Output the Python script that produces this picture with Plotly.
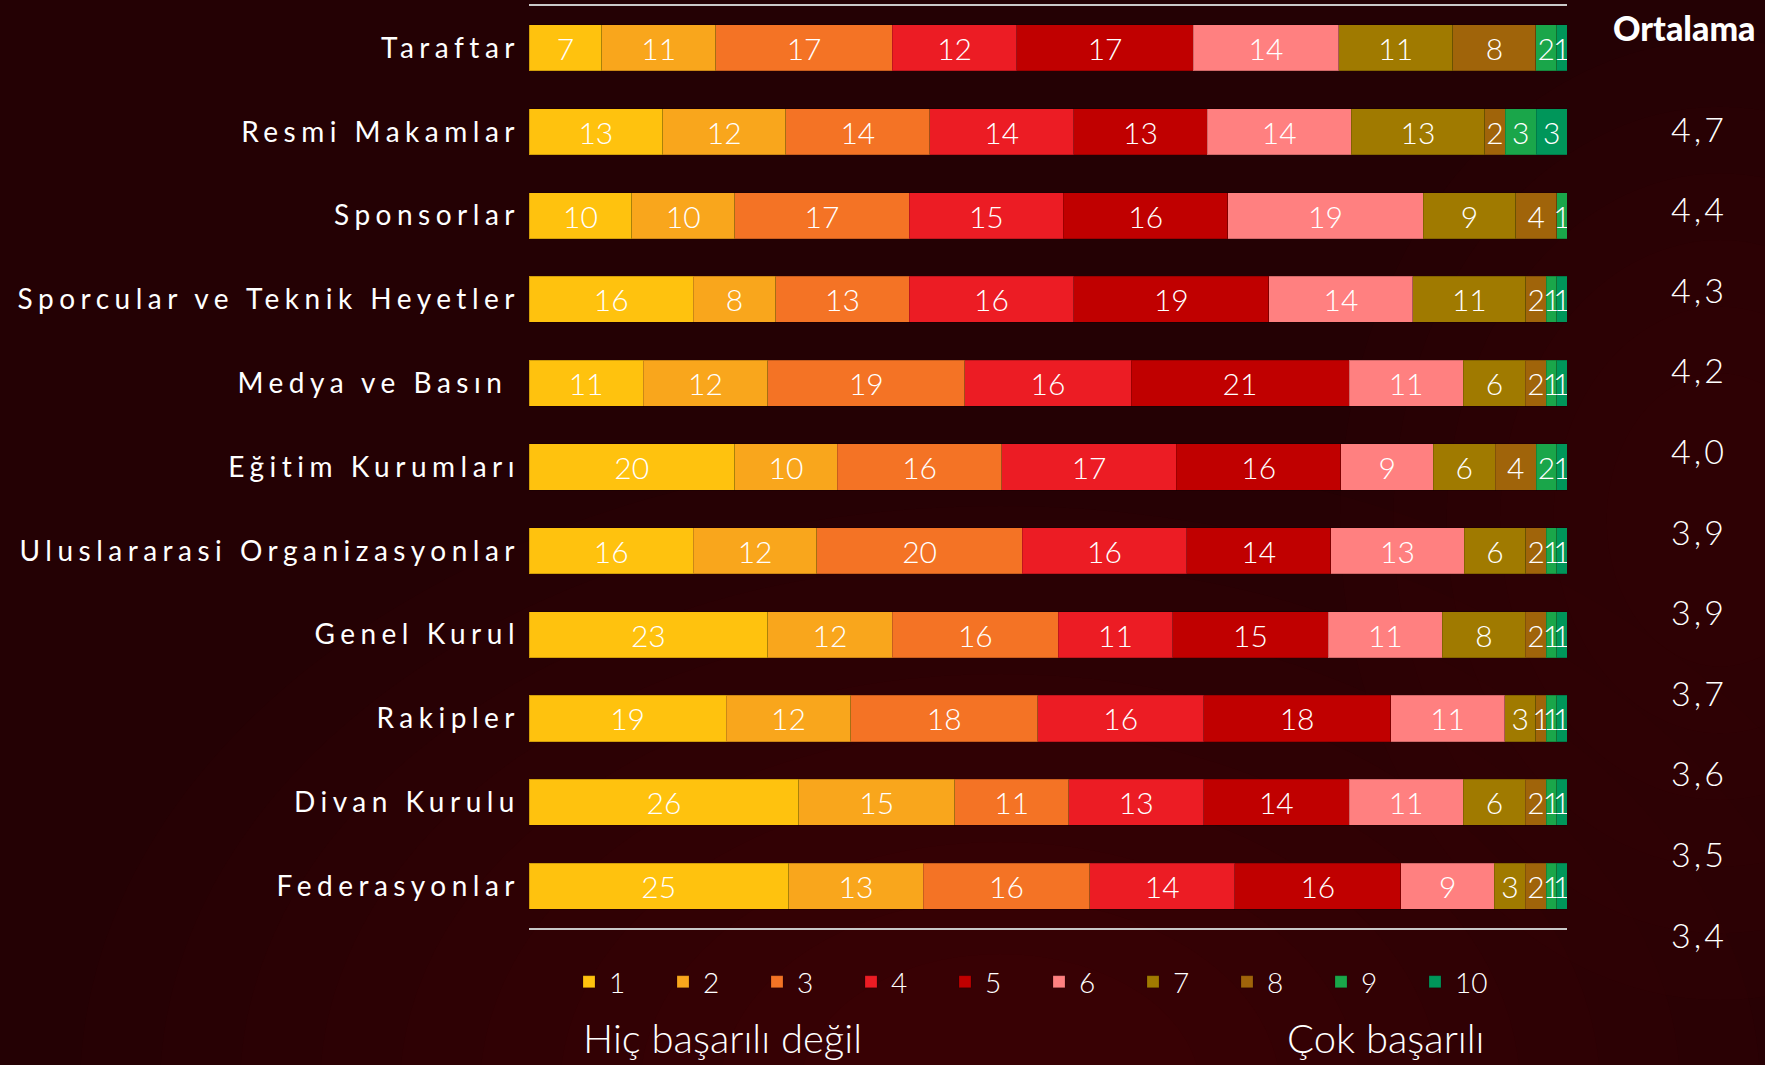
import plotly.graph_objects as go

categories = [
    "Taraftar",
    "Resmi Makamlar",
    "Sponsorlar",
    "Sporcular ve Teknik Heyetler",
    "Medya ve Basın\u00a0",
    "Eğitim Kurumları",
    "Uluslararasi Organizasyonlar",
    "Genel Kurul",
    "Rakipler",
    "Divan Kurulu",
    "Federasyonlar",
]

score_labels = ["1", "2", "3", "4", "5", "6", "7", "8", "9", "10"]

# percentage of answers per score (columns 1..10) for each category
s1 = [7, 13, 10, 16, 11, 20, 16, 23, 19, 26, 25]
s2 = [11, 12, 10, 8, 12, 10, 12, 12, 12, 15, 13]
s3 = [17, 14, 17, 13, 19, 16, 20, 16, 18, 11, 16]
s4 = [12, 14, 15, 16, 16, 17, 16, 11, 16, 13, 14]
s5 = [17, 13, 16, 19, 21, 16, 14, 15, 18, 14, 16]
s6 = [14, 14, 19, 14, 11, 9, 13, 11, 11, 11, 9]
s7 = [11, 13, 9, 11, 6, 6, 6, 8, 3, 6, 3]
s8 = [8, 2, 4, 2, 2, 4, 2, 2, 1, 2, 2]
s9 = [2, 3, 1, 1, 1, 2, 1, 1, 1, 1, 1]
s10 = [1, 3, 0, 1, 1, 1, 1, 1, 1, 1, 1]
series = [s1, s2, s3, s4, s5, s6, s7, s8, s9, s10]

colors = ["#FFC20E", "#F9A61C", "#F47325", "#EC1C24", "#C00000",
          "#FF8080", "#A07A00", "#A0640A", "#1AA64A", "#00965A"]

avg_labels = ["4,7", "4,4", "4,3", "4,2", "4,0", "3,9", "3,9", "3,7", "3,6", "3,5", "3,4"]
avg_pos = list(range(len(avg_labels)))

BG = "#240104"
FONT = "Lato"

W, H = 1765, 1065
TOP, BOT = 6, 100          # page margins (px)
PLOT_BOTTOM = 928          # bottom of the bar area (px)
PAPER_H = H - TOP - BOT


def py(p):
    """page pixel row -> paper fraction"""
    return (H - BOT - p) / PAPER_H


fig = go.Figure()

for lab, vals, col in zip(score_labels, series, colors):
    fig.add_trace(go.Bar(
        name=lab,
        y=categories,
        x=vals,
        orientation="h",
        marker=dict(color=col, line=dict(color="rgba(0,0,0,0.18)", width=1)),
        text=[str(v) if v else "" for v in vals],
        texttemplate="%{text}",
        textposition="inside",
        insidetextanchor="middle",
        textangle=0,
        constraintext="none",
        insidetextfont=dict(family=FONT, size=30, color="white", weight=300),
        width=0.55,
        hoverinfo="skip",
    ))

fig.add_trace(go.Scatter(
    x=[0] * len(avg_labels),
    y=avg_pos,
    xaxis="x2",
    yaxis="y2",
    mode="text",
    text=avg_labels,
    textposition="middle center",
    textfont=dict(family=FONT, size=34, color="white", weight=300),
    cliponaxis=False,
    showlegend=False,
    hoverinfo="skip",
))

# soft reddish glow in the background (decorative)
glow = []
n = 10
for k in range(n):
    f = 1 - k / n
    rx, ry = 800 * f + 120, 560 * f + 80
    cx, cy = 1000, 1090
    glow.append(dict(type="circle", xref="paper", yref="paper", layer="below",
                     x0=(cx - rx) / W, x1=(cx + rx) / W, y0=py(cy + ry), y1=py(cy - ry),
                     fillcolor="rgba(120,22,30,0.03)", line=dict(width=0)))
for k in range(6):
    f = 1 - k / 6
    rx, ry = 320 * f + 60, 400 * f + 80
    cx, cy = 1720, 520
    glow.append(dict(type="circle", xref="paper", yref="paper", layer="below",
                     x0=(cx - rx) / W, x1=(cx + rx) / W, y0=py(cy + ry), y1=py(cy - ry),
                     fillcolor="rgba(120,22,30,0.025)", line=dict(width=0)))

fig.update_layout(
    width=W,
    height=H,
    paper_bgcolor=BG,
    plot_bgcolor="rgba(0,0,0,0)",
    barmode="stack",
    barnorm="percent",
    margin=dict(l=0, r=0, t=TOP, b=BOT),
    xaxis=dict(
        domain=[529 / W, 1567 / W],
        range=[0, 100],
        showgrid=False,
        zeroline=False,
        showticklabels=False,
        showline=True,
        mirror=True,
        linecolor="#c9c9c9",
        linewidth=2,
        fixedrange=True,
    ),
    yaxis=dict(
        domain=[py(PLOT_BOTTOM), 1.0],
        autorange="reversed",
        showgrid=False,
        zeroline=False,
        ticks="",
        ticklabelstandoff=8,
        tickfont=dict(family=FONT, size=28, color="white"),
        fixedrange=True,
    ),
    xaxis2=dict(
        domain=[1633 / W, 1.0],
        range=[-1, 1],
        anchor="y2",
        visible=False,
        fixedrange=True,
    ),
    yaxis2=dict(
        domain=[0, 1],
        range=[(H - BOT - 133) / 80.6, (TOP - 133) / 80.6],
        anchor="x2",
        visible=False,
        fixedrange=True,
    ),
    legend=dict(
        orientation="h",
        traceorder="normal",
        x=(589 - 20) / W,
        xanchor="left",
        y=py(982),
        yanchor="middle",
        font=dict(family=FONT, size=28, color="white", weight=300),
        entrywidth=49,
        entrywidthmode="pixels",
        bgcolor="rgba(0,0,0,0)",
        itemclick=False,
        itemdoubleclick=False,
    ),
    showlegend=True,
    shapes=glow,
    annotations=[
        dict(text="Ortalama", xref="paper", yref="paper", x=1684 / W, y=py(28),
             xanchor="center", yanchor="middle", showarrow=False,
             font=dict(family=FONT, size=34, color="white", weight=900)),
        dict(text="Hiç başarılı değil", xref="paper", yref="paper", x=581 / W, y=py(1038),
             xanchor="left", yanchor="middle", showarrow=False,
             font=dict(family=FONT, size=40, color="white", weight=300)),
        dict(text="Çok başarılı", xref="paper", yref="paper", x=1486 / W, y=py(1038),
             xanchor="right", yanchor="middle", showarrow=False,
             font=dict(family=FONT, size=40, color="white", weight=300)),
    ],
)

post = """
document.body.style.margin = '0';
document.body.style.padding = '0';
document.body.style.background = '#240104';
var gd = document.getElementById('{plot_id}');
function spacing(){
  gd.querySelectorAll('.ytick text').forEach(function(t){ t.style.letterSpacing = '5.5px'; });
  gd.querySelectorAll('.scatterlayer .textpoint text').forEach(function(t){ t.style.letterSpacing = '3px'; });
}
spacing();
gd.on('plotly_afterplot', spacing);
"""

fig.write_html("out.html", post_script=post, config={"displayModeBar": False})
